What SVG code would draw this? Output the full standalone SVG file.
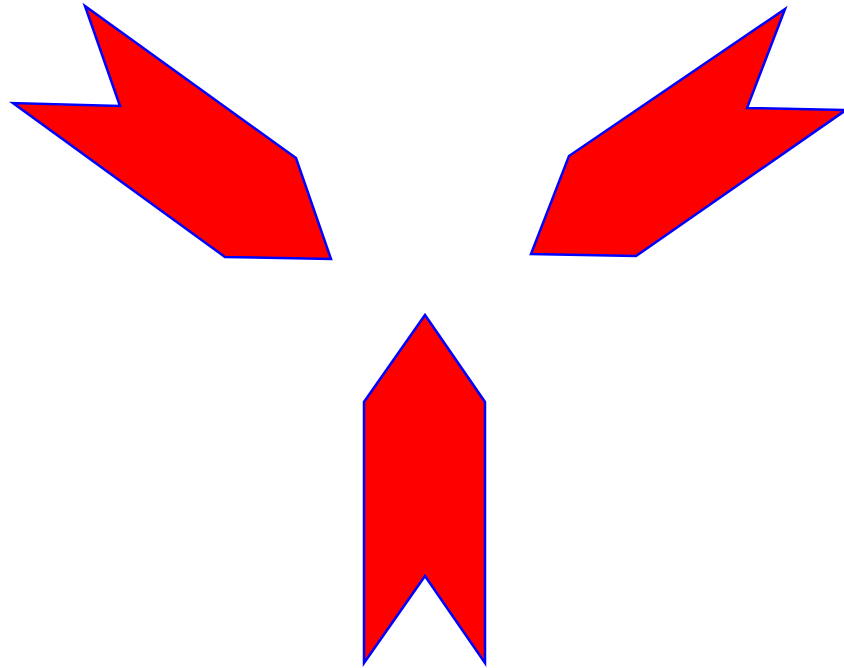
<svg xmlns="http://www.w3.org/2000/svg" width="844" height="668" viewBox="0 0 844 668">
<style>.a{fill:#ff0000;stroke:#0000ff;stroke-width:2.5;stroke-linejoin:miter}</style>
<rect width="844" height="668" fill="#fff"/>
<g id="arrow-left"><polygon class="a" points="85,6 296,158 331,259 225,257 13,103 120,106"/></g>
<g id="arrow-right"><polygon class="a" points="785,9 747,108 846,110 636,256 531,254 569,156"/></g>
<g id="arrow-bottom"><polygon class="a" points="425,315 485,402 485,663 425,576 364,663 364,402"/></g>
</svg>
